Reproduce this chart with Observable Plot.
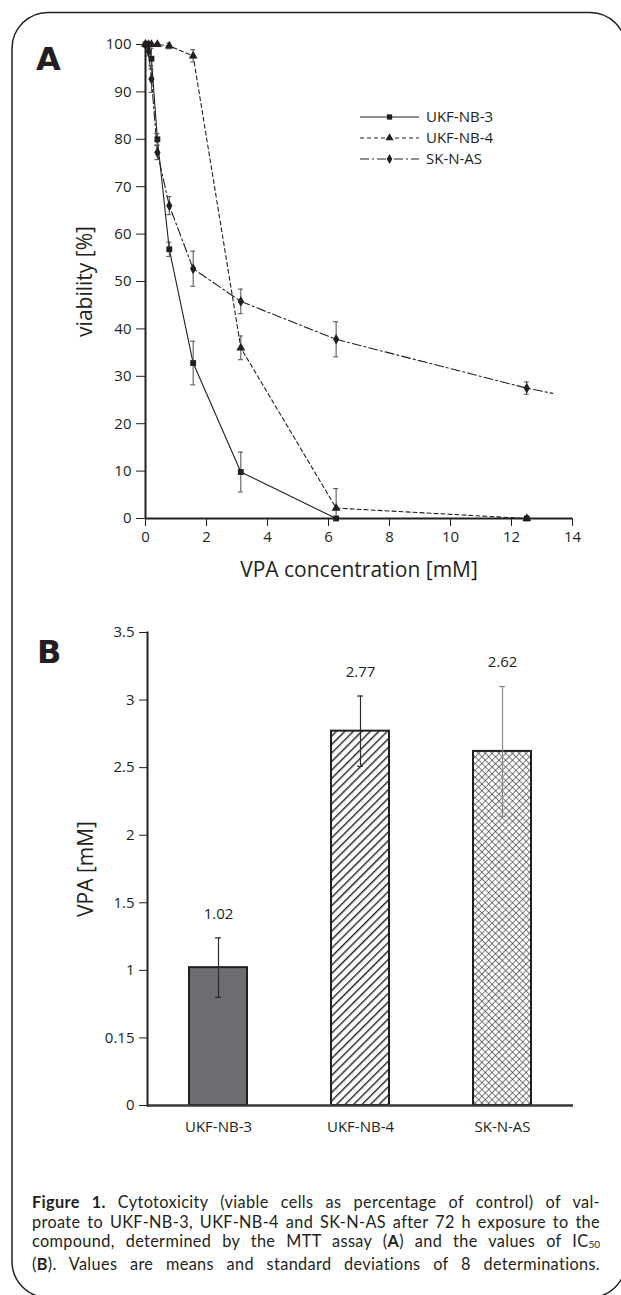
<!DOCTYPE html>
<html><head><meta charset="utf-8">
<script src="https://cdn.jsdelivr.net/npm/d3@7"></script>
<script src="https://cdn.jsdelivr.net/npm/@observablehq/plot@0.6"></script>
<style>
body{margin:0;background:#fff;}
#page{position:relative;width:621px;height:1295px;overflow:hidden;font-family:"Open Sans",sans-serif;color:#231f20;}
.abs{position:absolute;}
#caption{left:32px;top:1192px;width:568px;font-family:Lato,"Open Sans",sans-serif;font-size:16.3px;line-height:19.6px;letter-spacing:0.35px;}
#caption div{text-align:justify;text-align-last:justify;white-space:nowrap;}
#caption .sub{font-size:10px;position:relative;top:1.2px;letter-spacing:0;}
</style></head><body>
<div id="page">
  <svg class="abs" width="621" height="1295" style="left:0;top:0">
    <defs>
      <pattern id="hatchDiag" patternUnits="userSpaceOnUse" width="6" height="6" patternTransform="rotate(45)">
        <rect width="6" height="6" fill="#fff"/>
        <line x1="0" y1="0" x2="0" y2="6" stroke="#231f20" stroke-width="2.8"/>
      </pattern>
      <pattern id="hatchCross" patternUnits="userSpaceOnUse" width="4.8" height="4.8" patternTransform="rotate(45)">
        <rect width="4.8" height="4.8" fill="#fff"/>
        <line x1="0" y1="0" x2="0" y2="4.8" stroke="#2b2b2d" stroke-width="1.2"/>
        <line x1="0" y1="0" x2="4.8" y2="0" stroke="#2b2b2d" stroke-width="1.2"/>
      </pattern>
    </defs>
    <rect x="12" y="12.5" width="614" height="1285" rx="36" fill="none" stroke="#231f20" stroke-width="1.5"/>
    <text x="36" y="70" font-family="DejaVu Sans" font-weight="bold" font-size="32" fill="#231f20">A</text>
    <text x="37" y="663" font-family="DejaVu Sans" font-weight="bold" font-size="32" fill="#231f20">B</text>
  </svg>
  <div id="chartA" class="abs" style="left:0;top:0"></div>
  <div id="legendA" class="abs" style="left:355px;top:105px"></div>
  <div id="chartB" class="abs" style="left:0;top:600px"></div>
  <div id="caption" class="abs">
    <div><b>Figure 1.</b> Cytotoxicity (viable cells as percentage of control) of val-</div>
    <div>proate to UKF-NB-3, UKF-NB-4 and SK-N-AS after 72 h exposure to the</div>
    <div>compound, determined by the MTT assay (<b>A</b>) and the values of IC<span class="sub">50</span></div>
    <div>(<b>B</b>). Values are means and standard deviations of 8 determinations.</div>
  </div>
</div>
<script>
// ---------- Panel A data ----------
const seriesNames = ["UKF-NB-3", "UKF-NB-4", "SK-N-AS"];
const concentrations = [0, 0.098, 0.195, 0.39, 0.78, 1.5625, 3.125, 6.25, 12.5];
const viabilityNB3 = [100, 100, 97, 80, 56.8, 32.8, 9.8, 0, 0];
const sdNB3 = [0, 0.5, 2.2, 1.2, 1.5, 4.6, 4.2, 0, 0];
const viabilityNB4 = [100, 100, 100, 100, 99.7, 97.6, 36, 2.2, 0];
const sdNB4 = [0, 0, 0, 0.3, 0.6, 1.3, 2.5, 4.1, 0];
const viabilitySK = [100, 98.6, 92.7, 77.2, 66, 52.7, 45.8, 37.8, 27.5];
const sdSK = [0, 1.0, 2.8, 1.5, 1.9, 3.7, 2.6, 3.7, 1.3];
const skTailConc = [13.35];
const skTailViability = [26.4];
const xTicksA = [0, 2, 4, 6, 8, 10, 12, 14];
const yTicksA = [0, 10, 20, 30, 40, 50, 60, 70, 80, 90, 100];

// ---------- Panel B data ----------
const cellLines = ["UKF-NB-3", "UKF-NB-4", "SK-N-AS"];
const ic50 = [1.02, 2.77, 2.62];
const ic50sd = [0.22, 0.26, 0.48];
const ic50Labels = ["1.02", "2.77", "2.62"];
const yTicksB = [0, 0.5, 1, 1.5, 2, 2.5, 3, 3.5];
const yTickLabelsB = ["0", "0.15", "1", "1.5", "2", "2.5", "3", "3.5"];

// ---------- styles ----------
const INK = "#231f20";
const dashes = {"UKF-NB-3": null, "UKF-NB-4": "4,3", "SK-N-AS": "9,3,2,3"};
const symbols = ["square", "triangle", "diamond"];
const barFills = {"UKF-NB-3": "#6d6e71", "UKF-NB-4": "url(#hatchDiag)", "SK-N-AS": "url(#hatchCross)"};
const errColors = {"UKF-NB-3": "#2b2b2b", "UKF-NB-4": "#2b2b2b", "SK-N-AS": "#8a8a8c"};

const valuesA = [viabilityNB3, viabilityNB4, viabilitySK];
const sdsA = [sdNB3, sdNB4, sdSK];
const rowsA = [];
seriesNames.forEach((s, i) => concentrations.forEach((c, j) =>
  rowsA.push({series: s, x: c, y: valuesA[i][j], sd: sdsA[i][j]})));
const errA = rowsA.filter(d => d.sd > 0);
const lineData = s => {
  const r = rowsA.filter(d => d.series === s);
  if (s === "SK-N-AS") skTailConc.forEach((c, k) => r.push({series: s, x: c, y: skTailViability[k]}));
  return r;
};

const chartA = Plot.plot({
  width: 621, height: 595,
  marginLeft: 145, marginRight: 49, marginTop: 44, marginBottom: 77,
  style: {fontFamily: "Open Sans", fontSize: "15px", color: INK, background: "transparent"},
  x: {domain: [0, 14]},
  y: {domain: [0, 100]},
  symbol: {domain: seriesNames, range: symbols},
  marks: [
    Plot.axisX({ticks: xTicksA, tickSize: 8, tickPadding: 5, label: null, fontSize: 15, stroke: INK}),
    Plot.axisY({ticks: yTicksA, tickSize: 9, tickPadding: 5, label: null, fontSize: 15, stroke: INK}),
    ...seriesNames.map(s => Plot.line(lineData(s), {x: "x", y: "y", stroke: INK, strokeWidth: 1.1, strokeDasharray: dashes[s]})),
    Plot.ruleX(errA, {x: "x", y1: d => Math.max(0, d.y - d.sd), y2: d => d.y + d.sd, stroke: "#4d4d4f", strokeWidth: 1}),
    Plot.ruleY(errA, {y: d => d.y + d.sd, x1: "x", x2: "x", insetLeft: -2.5, insetRight: -2.5, stroke: "#4d4d4f", strokeWidth: 1}),
    Plot.ruleY(errA.filter(d => d.y - d.sd > 0), {y: d => d.y - d.sd, x1: "x", x2: "x", insetLeft: -2.5, insetRight: -2.5, stroke: "#4d4d4f", strokeWidth: 1}),
    Plot.dot(rowsA, {x: "x", y: "y", symbol: "series", fill: INK, stroke: "none", r: 3.3}),
    Plot.ruleY([0], {stroke: INK, strokeWidth: 2}),
    Plot.ruleX([0], {stroke: INK, strokeWidth: 2}),
    Plot.text(["viability [%]"], {text: d => d, frameAnchor: "left", textAnchor: "middle", lineAnchor: "middle", rotate: -90, dx: -60, fontSize: 21, fill: INK}),
    Plot.text(["VPA concentration [mM]"], {text: d => d, frameAnchor: "bottom", textAnchor: "middle", lineAnchor: "middle", dy: 52, fontSize: 21, fill: INK})
  ]
});
document.getElementById("chartA").append(chartA);

// legend for panel A
const legend = d3.create("svg").attr("width", 160).attr("height", 70)
  .style("font-family", "Open Sans").style("font-size", "15px");
const d3sym = {square: d3.symbolSquare, triangle: d3.symbolTriangle, diamond: d3.symbolDiamond};
seriesNames.forEach((s, i) => {
  const g = legend.append("g").attr("transform", `translate(0,${12 + i * 21})`);
  g.append("line").attr("x1", 5).attr("x2", 64).attr("stroke", INK).attr("stroke-width", 1.1)
    .attr("stroke-dasharray", dashes[s]);
  g.append("path").attr("d", d3.symbol(d3sym[symbols[i]], Math.PI * 3 * 3)())
    .attr("transform", "translate(34.5,0)").attr("fill", INK);
  g.append("text").attr("x", 71).attr("dy", "0.35em").attr("fill", INK).text(s);
});
document.getElementById("legendA").append(legend.node());

// ---------- Panel B ----------
const rowsB = cellLines.map((c, i) => ({cell: c, v: ic50[i], sd: ic50sd[i], label: ic50Labels[i]}));
const tickLabelB = new Map(yTicksB.map((t, i) => [t, yTickLabelsB[i]]));

const chartB = Plot.plot({
  width: 621, height: 545,
  marginLeft: 147, marginRight: 48, marginTop: 32, marginBottom: 40,
  style: {fontFamily: "Open Sans", fontSize: "15px", color: INK, background: "transparent"},
  x: {domain: cellLines, paddingInner: 0.59, paddingOuter: 0.295},
  y: {domain: [0, 3.5]},
  marks: [
    Plot.axisX({tickSize: 0, tickPadding: 16, label: null, fontSize: 15}),
    Plot.axisY({ticks: yTicksB, tickFormat: t => tickLabelB.get(t), tickSize: 8, tickPadding: 5, label: null, fontSize: 15, stroke: INK}),
    ...rowsB.map(d => Plot.barY([d], {x: "cell", y: "v", fill: barFills[d.cell], stroke: INK, strokeWidth: 2})),
    ...rowsB.map(d => Plot.ruleX([d], {x: "cell", y1: r => r.v - r.sd, y2: r => r.v + r.sd, stroke: errColors[d.cell], strokeWidth: 1.2})),
    ...rowsB.map(d => Plot.tickY([d], {x: "cell", y: r => r.v + r.sd, insetLeft: 26, insetRight: 26, stroke: errColors[d.cell], strokeWidth: 1.2})),
    ...rowsB.map(d => Plot.tickY([d], {x: "cell", y: r => r.v - r.sd, insetLeft: 26, insetRight: 26, stroke: errColors[d.cell], strokeWidth: 1.2})),
    Plot.text(rowsB, {x: "cell", y: d => d.v + d.sd, text: "label", dy: -24, fontSize: 15, fill: INK}),
    Plot.ruleY([0], {stroke: "#3a3a3c", strokeWidth: 2.5}),
    Plot.frame({anchor: "left", stroke: INK, strokeWidth: 2}),
    Plot.text(["VPA [mM]"], {text: d => d, frameAnchor: "left", textAnchor: "middle", lineAnchor: "middle", rotate: -90, dx: -61, fontSize: 21, fill: INK})
  ]
});
document.getElementById("chartB").append(chartB);
</script>
</body></html>
